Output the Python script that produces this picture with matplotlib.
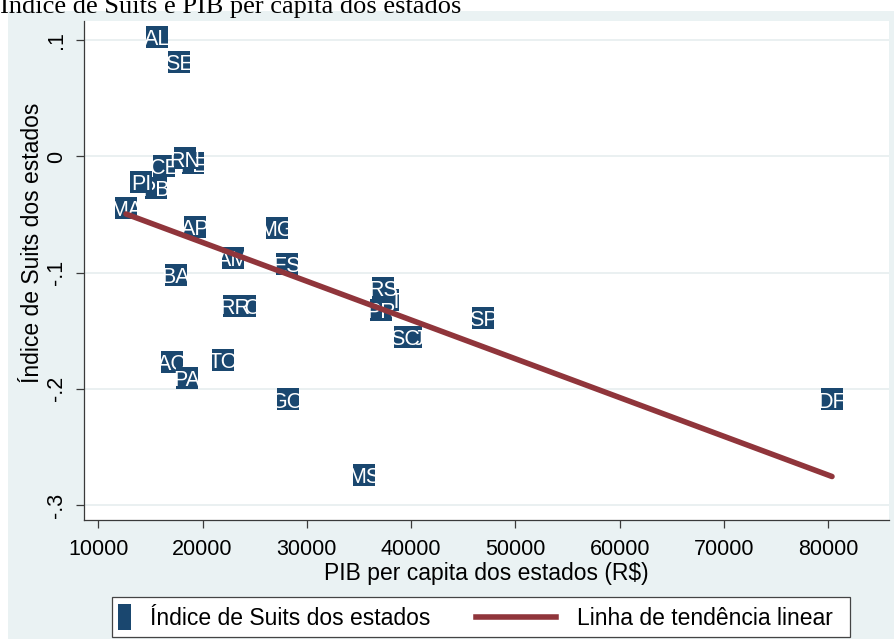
import numpy as np
import matplotlib
matplotlib.use("Agg")
import matplotlib.pyplot as plt
from matplotlib.patches import Rectangle
from matplotlib.lines import Line2D
from matplotlib.ticker import FixedLocator, FixedFormatter

# State codes, GDP per capita (R$) and Suits index
states = ["AC", "AL", "AM", "AP", "BA", "CE", "DF", "ES", "GO", "MA", "MG", "MS", "MT", "PA",
          "PB", "PE", "PI", "PR", "RJ", "RN", "RO", "RR", "RS", "SC", "SE", "SP", "TO"]
pib = [17066, 15628, 22915, 19271, 17450, 16347, 80345, 28092, 28188, 12656, 27133, 35474, 37775, 18504,
       15532, 19080, 14094, 37104, 39981, 18313, 24113, 23058, 37296, 39406, 17737, 46882, 21956]
suits = [-0.1768, 0.1031, -0.0873, -0.0605, -0.1019, -0.0080, -0.2091, -0.0924, -0.2091, -0.0442, -0.0614, -0.2742, -0.1234, -0.1904,
         -0.0270, -0.0059, -0.0218, -0.1320, -0.1554, -0.0016, -0.1286, -0.1286, -0.1131, -0.1554, 0.0816, -0.1389, -0.1751]

x_ticks = [10000, 20000, 30000, 40000, 50000, 60000, 70000, 80000]
x_tick_labels = ["10000", "20000", "30000", "40000", "50000", "60000", "70000", "80000"]
y_ticks = [-0.3, -0.2, -0.1, 0.0, 0.1]
y_tick_labels = ["-.3", "-.2", "-.1", "0", ".1"]

title = "Índice de Suits e PIB per capita dos estados"
x_title = "PIB per capita dos estados (R$)"
y_title = "Índice de Suits dos estados"
legend_labels = ["Índice de Suits dos estados", "Linha de tendência linear"]

NAVY = "#1a476f"
MAROON = "#90353b"
PANEL = "#eaf2f3"
GRID = "#e6edef"
AXIS = "#3a3a3a"

plt.rcParams["font.family"] = ["Liberation Sans", "DejaVu Sans"]

W, H = 895, 639
fig = plt.figure(figsize=(W / 100, H / 100), dpi=100)
fig.patch.set_facecolor("white")

# light graph-region panel behind the plot
fig.patches.append(Rectangle((8 / W, 0), 1, (H - 11) / H, transform=fig.transFigure,
                             facecolor=PANEL, edgecolor="none", zorder=-10))

ax = fig.add_axes([84 / W, 119 / H, 805 / W, 499 / H])
ax.set_facecolor("white")
ax.set_xlim(8630, 85810)
ax.set_ylim(-0.3129, 0.1166)

for side in ("top", "right"):
    ax.spines[side].set_visible(False)
for side in ("left", "bottom"):
    ax.spines[side].set_color(AXIS)
    ax.spines[side].set_linewidth(0.9)

ax.xaxis.set_major_locator(FixedLocator(x_ticks))
ax.xaxis.set_major_formatter(FixedFormatter(x_tick_labels))
ax.yaxis.set_major_locator(FixedLocator(y_ticks))
ax.yaxis.set_major_formatter(FixedFormatter(y_tick_labels))
ax.tick_params(axis="both", length=6, width=0.9, color=AXIS, labelsize=15.5, labelcolor="black", pad=6)
ax.tick_params(axis="x", pad=8)
ax.tick_params(axis="y", labelrotation=90)
for lbl in ax.get_yticklabels():
    lbl.set_va("center")

ax.yaxis.grid(True, color=GRID, linewidth=1.2)
ax.set_axisbelow(True)

ax.set_xlabel(x_title, fontsize=16.5, labelpad=1)
ax.set_ylabel(y_title, fontsize=16.5)
ax.yaxis.set_label_coords(-0.05, 0.555)

# labelled square markers, drawn in order so later states sit on top
for i, (code, xv, yv) in enumerate(zip(states, pib, suits)):
    ax.scatter([xv], [yv], s=258, marker="s", color=NAVY, linewidths=0, zorder=3 + 2 * i)
    ax.annotate(code, (xv, yv), xytext=(0, -6), textcoords="offset points",
                ha="center", va="baseline", color="white", fontsize=15.5, zorder=4 + 2 * i)

# linear trend over the observed range
slope, intercept = np.polyfit(pib, suits, 1)
xs = np.array([min(pib), max(pib)])
ax.plot(xs, intercept + slope * xs, color=MAROON, linewidth=4, solid_capstyle="round", zorder=200)

# title, partly above the canvas
fig.text(0, 1 - 13 / H, title, family=["Liberation Serif", "DejaVu Serif"], fontsize=19,
         ha="left", va="baseline", zorder=20)

# legend box
fig.patches.append(Rectangle((112 / W, 2 / H), 738 / W, 40 / H, transform=fig.transFigure,
                             facecolor="white", edgecolor="#444444", linewidth=0.9, zorder=5))
fig.patches.append(Rectangle((118 / W, 9 / H), 13 / W, 26 / H, transform=fig.transFigure,
                             facecolor=NAVY, edgecolor="none", zorder=6))
fig.lines.append(Line2D([476 / W, 556 / W], [22 / H, 22 / H], transform=fig.transFigure,
                        color=MAROON, linewidth=4, zorder=6))
fig.text(150 / W, 14 / H, legend_labels[0], fontsize=16.5, ha="left", va="baseline", zorder=7)
fig.text(577 / W, 14 / H, legend_labels[1], fontsize=16.5, ha="left", va="baseline", zorder=7)

fig.savefig("out.png", dpi=100)
